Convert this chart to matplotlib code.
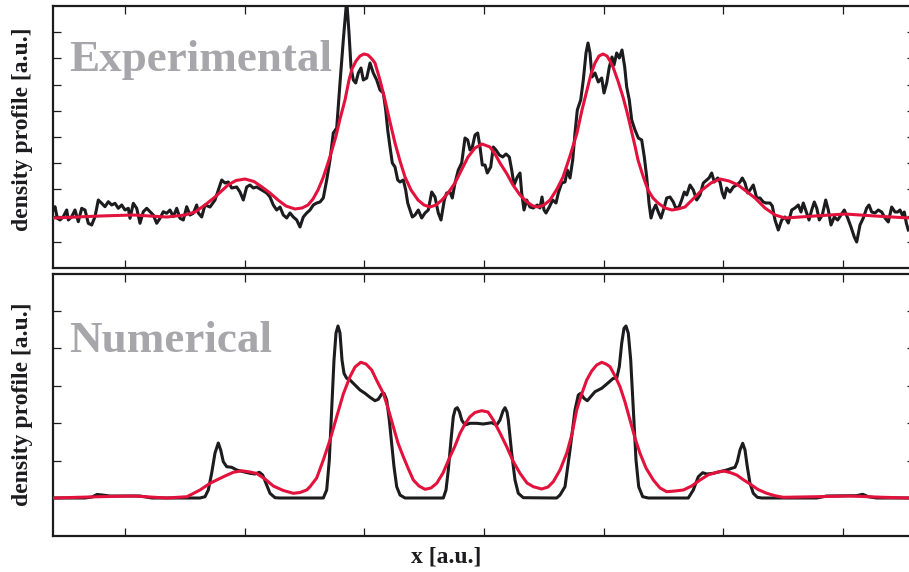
import numpy as np
import matplotlib
matplotlib.use("Agg")
import matplotlib.pyplot as plt

# ---------------- data (x and density in arbitrary units) ----------------
# Experimental profile (black, noisy): (x, density)
exp_measured = [
    (53.3, 58), (55, 61.3), (57.3, 49.7), (60, 48), (63.3, 51.3), (66.7, 58), (68.3, 48),
    (71.7, 51.3), (75, 58), (78.3, 46.3), (81.7, 59.7), (85, 58), (88.3, 44.7), (91.7, 43),
    (95, 51.3), (98.3, 68), (101.7, 64.7), (105, 61.3), (108.3, 66.3), (111.7, 63), (115, 64.7),
    (118.3, 59.7), (121.7, 63), (125, 58), (128.3, 59.7), (130, 49.7), (133.3, 64.7), (136.7, 59.7),
    (140, 44.7), (143.3, 56.3), (146.7, 59.7), (150, 56.3), (153.3, 53), (156.7, 44.7), (160, 49.7),
    (163.3, 56.3), (166.7, 54.7), (170, 58), (173.3, 51.3), (176.7, 59.7), (180, 49.7), (183.3, 48),
    (186.7, 61.3), (190, 53), (193.3, 54.7), (196.7, 63), (198.3, 55), (201.7, 51), (205, 63),
    (210, 61), (215, 68), (218.3, 78), (221.7, 88), (225, 85), (228.3, 86), (231.7, 80), (236.7, 81),
    (240, 76), (243.3, 68), (246.7, 81), (250, 83), (253.3, 80), (256.7, 81), (261.7, 78),
    (266.7, 75), (270, 71), (273.3, 63), (276.7, 58), (280, 61), (283.3, 53), (286.7, 50),
    (290, 55), (293.3, 51), (296.7, 48), (300, 41), (303.3, 51), (306.7, 55), (310, 58),
    (313.3, 63), (316.7, 65), (320, 66), (323.3, 70), (326.7, 88), (330, 108), (333.3, 135),
    (336.7, 140), (340, 185), (343.3, 228), (346.7, 268), (349, 235), (351, 201), (353.3, 188),
    (355.7, 185), (358.3, 195), (361, 200), (363.3, 188), (366.7, 190), (370, 205), (373.3, 195),
    (376.7, 188), (380, 178), (383.3, 175), (385.7, 158), (387.7, 138), (390, 121), (392.3, 105),
    (395, 101), (397.7, 88), (400, 86), (403.3, 88), (405.7, 78), (407.7, 65), (410, 58),
    (412.3, 51), (415, 53), (418.3, 58), (421.7, 50), (425, 55), (428.3, 58), (431.7, 76),
    (435, 71), (438.3, 55), (441, 48), (444.3, 68), (446.7, 75), (450, 76), (452.3, 70),
    (455, 85), (458.3, 98), (461.7, 105), (465, 130), (467.7, 128), (470, 118), (472.3, 121),
    (475, 133), (477.7, 135), (480, 121), (482.3, 103), (485, 103), (487.3, 95), (490.7, 101),
    (493.3, 121), (496, 118), (499.3, 113), (502.7, 111), (506, 114), (509.3, 111), (511.7, 98),
    (514, 83), (517.3, 91), (520, 95), (521.7, 75), (524, 58), (526.7, 68), (530, 61),
    (533.3, 60), (537.3, 63), (540, 60), (542, 71), (544, 58), (546, 55), (549.3, 61),
    (552.7, 68), (556, 65), (558.3, 75), (561.7, 85), (565, 86), (567.3, 98), (570, 90),
    (572.7, 108), (575, 135), (577.3, 158), (580.7, 168), (583.3, 188), (586, 215), (588, 225),
    (590, 215), (592, 191), (595, 195), (598.3, 186), (601.7, 190), (604, 175), (606.7, 185),
    (609.3, 201), (612, 211), (614, 203), (616.7, 215), (619.3, 210), (622, 218), (624.7, 201),
    (626.7, 181), (629.3, 168), (631.7, 148), (635, 138), (638.3, 130), (641.7, 128),
    (644.3, 111), (646.7, 91), (649, 65), (651, 50), (653.3, 58), (655.7, 63), (658.3, 56),
    (661, 50), (664.3, 61), (666.7, 70), (670, 71), (673.3, 66), (675.7, 60), (679, 61),
    (681.7, 68), (684.3, 76), (686.7, 73), (690, 83), (693.3, 78), (696.7, 68), (700, 73),
    (703.3, 85), (706.7, 88), (709, 90), (711.7, 95), (714.3, 86), (717.7, 90), (720, 86),
    (722.3, 75), (724.3, 70), (726.7, 80), (730, 76), (733.3, 81), (736.7, 83), (740, 86),
    (742.3, 90), (745, 85), (747.7, 75), (750, 78), (753.3, 83), (756.7, 70), (760, 70),
    (763.3, 66), (766, 65), (770, 65), (772.3, 62), (775, 48), (778.3, 38), (781.7, 48),
    (785, 51), (788.3, 45), (791.7, 58), (795, 60), (798.3, 63), (801, 56), (803.3, 65),
    (806.7, 55), (809, 48), (811.7, 58), (814.3, 66), (816.7, 60), (819.3, 48), (822.3, 53),
    (825.7, 68), (828.3, 58), (831, 43), (834.3, 51), (837.7, 48), (841, 53), (844.3, 58),
    (847.7, 50), (851, 41), (854.3, 31), (856.7, 26), (860, 43), (863.3, 50), (866.7, 60),
    (869, 63), (871.7, 56), (875, 55), (878.3, 58), (881.7, 56), (885, 50), (888.3, 46),
    (891.7, 61), (895, 56), (897.7, 56), (900, 58), (902.3, 53), (904.3, 56), (906.3, 45),
    (908.3, 38),
]

# Experimental fit (red): (x, density)
exp_fit = [
    (53, 50), (100, 52), (133, 53), (167, 51), (185, 53), (195, 56), (205, 63), (215, 71),
    (228, 83), (236, 87.5), (245, 89), (254, 86.5), (262, 81), (270, 75), (278, 68), (286, 62),
    (295, 59), (302, 60), (308, 63), (313, 69), (318, 78), (323, 90), (328, 105), (332, 118),
    (336, 132), (340, 149), (345, 168), (349, 188), (352, 199), (356, 207), (360, 212),
    (364, 214), (368, 213), (372, 209), (375, 205), (380, 188), (385, 168), (390, 146),
    (395, 125), (400, 107), (405, 91), (411, 78), (418, 68), (424, 63), (430, 61), (436, 63),
    (442, 68), (448, 75), (455, 85), (462, 99), (468, 111), (475, 120), (482, 124), (490, 121),
    (495, 114), (500, 105), (507, 94), (513, 83), (520, 73), (527, 66), (533, 62), (538, 61),
    (544, 63), (550, 68), (557, 79), (563, 91), (570, 112), (577, 135), (582, 158), (587, 178),
    (591, 194), (595, 205), (599, 212), (603, 214), (607, 212), (610, 207), (613, 201),
    (618, 187), (623, 171), (627, 156), (631, 139), (635, 122), (638, 108), (643, 92),
    (648, 78), (653, 70), (658, 65), (665, 60), (672, 58), (678, 59), (685, 61), (693, 69),
    (702, 78), (711, 85), (720, 89), (729, 87), (738, 83), (746, 77), (755, 70), (765, 60),
    (775, 53), (785, 50), (800, 51), (815, 52), (845, 54), (875, 52), (909, 50),
]

# Numerical profile (black): (x, density)
num_profile = [
    (53, 0), (85, 0), (92, 1), (97, 3.5), (102, 3), (110, 2), (140, 2), (146, 1), (152, 0),
    (200, 0), (205, 1.3), (208.3, 8), (211.7, 25), (215, 45), (218.3, 55), (220.7, 48),
    (223.3, 36.3), (226.7, 31.3), (231.7, 30.7), (236.7, 28), (243.3, 26.3), (250, 24.7),
    (255, 24), (259.3, 25.7), (262.7, 23), (266, 14.7), (270, 4.7), (275, 0.3), (280, 0),
    (323.3, 0), (326.7, 8), (329.3, 38), (331.7, 88), (334, 138), (336, 165), (338, 172),
    (340, 165), (342, 138), (344, 124.7), (346.7, 119.7), (350, 118), (355, 113), (360, 108),
    (365, 104.7), (370, 100.7), (375, 97.3), (378.3, 98.7), (381.7, 104), (384, 104.7),
    (386.7, 98), (389.3, 78), (391.7, 54.7), (394, 31.3), (396.7, 11.3), (400, 3), (405, 0),
    (443.3, 0), (446, 8), (448.3, 28), (451, 58), (453.3, 81.3), (455.3, 89), (457.3, 90.3),
    (459.5, 86), (461.7, 78), (465, 73), (470, 74.7), (476.7, 74.7), (483.3, 74),
    (491.7, 75.3), (496.7, 73), (500, 78), (503, 87), (505, 90.3), (507, 86), (508.3, 78),
    (511.7, 44.7), (515, 18), (518.3, 4.7), (523.3, 0.3), (556.7, 0), (560, 3), (565, 11.3),
    (570, 48), (575, 88), (578.3, 103), (580.7, 104.7), (584, 99.7), (587.3, 97.3),
    (590.7, 101.3), (595, 106.3), (601.7, 109.7), (608.3, 115.3), (613.3, 119.7),
    (616.7, 119.7), (619.3, 131.3), (621.7, 154.7), (624, 169.7), (626, 172), (628.3, 164.7),
    (630.7, 138), (633.3, 88), (636, 38), (638.7, 11.3), (642.7, 1.3), (648.3, 0), (688.3, 0),
    (693.3, 8), (698.3, 21.3), (702.7, 25.3), (706.7, 24), (713.3, 24.7), (720, 26.3),
    (726.7, 28), (731.7, 29.7), (735, 30.7), (737.3, 36.3), (740, 48), (742.7, 54.7),
    (745, 48), (747.3, 31.3), (750, 14.7), (753.3, 4.7), (757.3, 0.7), (761.7, 0),
    (816.7, 0), (826.7, 2), (856.7, 2.3), (862.7, 3.7), (868.3, 1.3), (876.7, 0), (909, 0),
]

# Numerical fit (red): (x, density)
num_fit = [
    (53, 0), (100, 1.3), (133, 2), (167, 0), (187, 1.3), (200, 8), (210, 14.7), (216.7, 18),
    (225, 22), (233.3, 25.7), (241.7, 27.2), (250, 26), (256.7, 24.5), (265, 19), (273.3, 12),
    (283.3, 7.5), (293.3, 4.7), (300, 5.5), (306.7, 8), (310, 11.3), (316.7, 20), (323.3, 38),
    (330, 58), (336.7, 81.3), (343.3, 104), (350, 121.3), (355, 131), (360.7, 135.7),
    (366, 134), (371.7, 128), (377, 117), (383.3, 104.7), (388, 90), (393.3, 71.3), (398, 55),
    (403.3, 41.3), (408, 30), (413.3, 18), (419, 12), (425, 8.7), (431, 10), (436.7, 14.7),
    (443, 25), (450, 41.3), (455, 52), (460, 64.7), (465, 74), (470, 81.3), (475, 85.5),
    (481.7, 87.3), (488, 86), (493.3, 78), (500, 65), (506.7, 51.3), (513, 37), (520, 24.7),
    (527, 15), (533.3, 11.3), (541.7, 9), (548, 11), (553.3, 16.3), (560, 28), (566.7, 44.7),
    (572, 64), (576.7, 88), (581.7, 104), (586.7, 118), (591.7, 127), (596.7, 133),
    (601.7, 135.7), (606, 134), (610, 131.3), (615, 122), (620, 111.3), (625, 96), (630, 78),
    (635, 60), (640, 44.7), (646, 30), (653.3, 18), (660, 10), (666.7, 6.3), (675, 7),
    (683.3, 8), (691.7, 12), (700, 18), (708, 23), (716.7, 25.7), (723.3, 27), (730, 25.5),
    (736.7, 23), (743, 18.5), (750, 14), (758, 8.5), (766.7, 4.7), (775, 2.3), (783.3, 0.7),
    (816.7, 1.3), (850, 2), (883.3, 0.7), (909, 0),
]

panel_titles = ["Experimental", "Numerical"]
y_label = "density profile [a.u.]"
x_label = "x [a.u.]"

# ---------------- styling ----------------
BLACK = "#1c1c1e"
RED = "#e2123c"
GRAY = "#a6a6ab"
SERIF = ["Liberation Serif", "DejaVu Serif"]

W, H = 909, 572
fig = plt.figure(figsize=(W / 100, H / 100), dpi=100)
fig.patch.set_facecolor("white")

left_px, right_px = 53, 915
ax1 = fig.add_axes([left_px / W, (H - 268) / H, (right_px - left_px) / W, 262 / H])
ax2 = fig.add_axes([left_px / W, (H - 536) / H, (right_px - left_px) / W, 262 / H])

xticks = 484 + 119.7 * np.arange(-3, 4)

def style(ax, ylim, yticks):
    ax.set_xlim(left_px, right_px)
    ax.set_ylim(*ylim)
    ax.set_xticks(xticks)
    ax.set_yticks(yticks)
    ax.tick_params(which="both", direction="in", top=True, right=True, bottom=True, left=True,
                   labelbottom=False, labelleft=False, length=5.5, width=0.9, color=BLACK)
    for s in ax.spines.values():
        s.set_linewidth(1.6)
        s.set_color(BLACK)

ex, ey = np.array(exp_measured).T
fx, fy = np.array(exp_fit).T
nx, ny = np.array(num_profile).T
gx, gy = np.array(num_fit).T

ax1.plot(ex, ey, color=BLACK, lw=2.2, solid_joinstyle="round", zorder=2)
ax1.plot(fx, fy, color=RED, lw=2.2, solid_joinstyle="round", zorder=3)
style(ax1, (0, 262), 26.2 * np.arange(1, 10))

ax2.plot(nx, ny, color=BLACK, lw=2.2, solid_joinstyle="round", zorder=2)
ax2.plot(gx, gy, color=RED, lw=2.2, solid_joinstyle="round", zorder=3)
style(ax2, (-38, 224), 37.4 * np.arange(0, 6))

fig.text(69 / W, 1 - 71 / H, panel_titles[0], family=SERIF, fontweight="bold",
         fontsize=32.5, color=GRAY, ha="left", va="baseline")
fig.text(69 / W, 1 - 352.5 / H, panel_titles[1], family=SERIF, fontweight="bold",
         fontsize=32.5, color=GRAY, ha="left", va="baseline")

fig.text(22.5 / W, 1 - 129 / H, y_label, family=SERIF, fontweight="bold", fontsize=17,
         color=BLACK, rotation=90, ha="center", va="center")
fig.text(22.5 / W, 1 - 404 / H, y_label, family=SERIF, fontweight="bold", fontsize=17,
         color=BLACK, rotation=90, ha="center", va="center")
fig.text(446 / W, 1 - 557 / H, x_label, family=SERIF, fontweight="bold", fontsize=17,
         color=BLACK, ha="center", va="center")

fig.savefig("out.png", dpi=100, facecolor="white")
